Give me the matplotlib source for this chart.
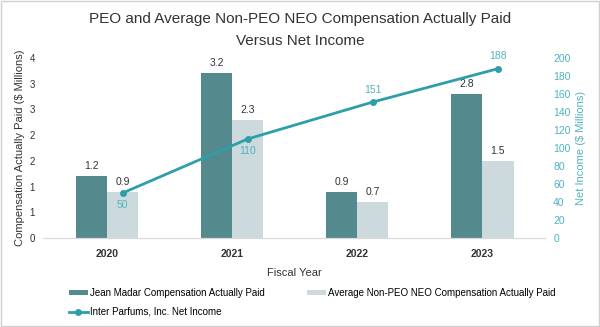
import numpy as np
import matplotlib
matplotlib.use("Agg")
import matplotlib.pyplot as plt
from matplotlib.ticker import FuncFormatter

years = ["2020", "2021", "2022", "2023"]
peo_cap = [1.2, 3.2, 0.9, 2.8]
neo_cap = [0.9, 2.3, 0.7, 1.5]
net_income = [50, 110, 151, 188]

DARK = "#548a8e"
LIGHT = "#cddadd"
LINE = "#2e9fa9"
TEAL_TXT = "#4fb3bf"
GRAY_TXT = "#333333"

plt.rcParams.update({
    "font.family": "Liberation Sans",
    "font.size": 7,
})

fig = plt.figure(figsize=(6.0, 3.27), dpi=100)
ax = fig.add_axes([0.072, 0.272, 0.836, 0.551])
ax2 = ax.twinx()

x = np.arange(len(years))
w = 0.25
ax.bar(x - w / 2, peo_cap, w, color=DARK, label="Jean Madar Compensation Actually Paid")
ax.bar(x + w / 2, neo_cap, w, color=LIGHT, label="Average Non-PEO NEO Compensation Actually Paid")
for xi, v in zip(x, peo_cap):
    ax.text(xi - w / 2, v + 0.1, f"{v:.1f}", ha="center", va="bottom", fontsize=7.5, color=GRAY_TXT)
for xi, v in zip(x, neo_cap):
    ax.text(xi + w / 2, v + 0.1, f"{v:.1f}", ha="center", va="bottom", fontsize=7.5, color=GRAY_TXT)

ax2.plot(x + w / 2, net_income, color=LINE, lw=2, marker="o", ms=4,
         label="Inter Parfums, Inc. Net Income")
for i, (xi, v) in enumerate(zip(x + w / 2, net_income)):
    if i < 2:
        ax2.text(xi, v - 8, str(v), ha="center", va="top", fontsize=7.5, color=TEAL_TXT)
    else:
        ax2.text(xi, v + 8, str(v), ha="center", va="bottom", fontsize=7.5, color=TEAL_TXT)

ax.set_xlim(-0.51, 3.5)
ax.set_ylim(0, 3.5)
ax.set_yticks(np.arange(0, 3.51, 0.5))
ax.yaxis.set_major_formatter(FuncFormatter(lambda v, p: f"{int(v + 0.5)}"))
ax2.set_ylim(0, 200)
ax2.set_yticks(np.arange(0, 201, 20))

ax.set_xticks(x)
ax.set_xticklabels(years, fontweight="bold", fontsize=7.5)
ax.set_xlabel("Fiscal Year", fontsize=8, color=GRAY_TXT, labelpad=6)
ax.set_ylabel("Compensation Actually Paid ($ Millions)", fontsize=8, color=GRAY_TXT, labelpad=3)
ax2.set_ylabel("Net Income ($ Millions)", fontsize=8, color=TEAL_TXT, labelpad=4)

for a in (ax, ax2):
    for s in ("top", "left", "right"):
        a.spines[s].set_visible(False)
    a.spines["bottom"].set_color("#d9d9d9")
    a.tick_params(length=0)
ax.tick_params(axis="y", colors=GRAY_TXT, pad=6)
ax.tick_params(axis="x", colors=GRAY_TXT, pad=8)
ax2.tick_params(axis="y", colors=TEAL_TXT, labelsize=7.5, pad=6)

fig.suptitle("PEO and Average Non-PEO NEO Compensation Actually Paid\nVersus Net Income",
             y=0.962, fontsize=11, color=GRAY_TXT, linespacing=1.7)

h1, l1 = ax.get_legend_handles_labels()
h2, l2 = ax2.get_legend_handles_labels()
fig.legend([h1[0], h2[0], h1[1]], [l1[0], l2[0], l1[1]], loc="lower left",
           bbox_to_anchor=(0.1, 0.005), ncol=2,
           frameon=False, fontsize=7, handlelength=2.0, handleheight=0.5,
           columnspacing=4.3, handletextpad=0.2, labelspacing=0.9)

fig.patches.append(plt.Rectangle((0.002, 0.003), 0.996, 0.994, transform=fig.transFigure,
                                 fill=False, edgecolor="#d0d0d0", lw=1))

fig.savefig("out.png", dpi=100)
